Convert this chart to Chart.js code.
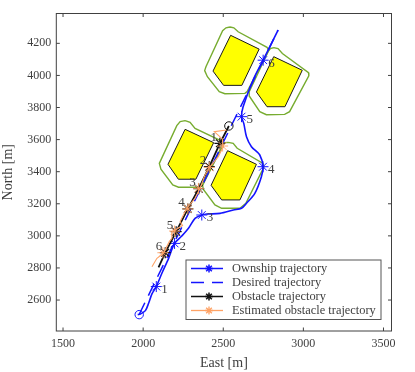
<!DOCTYPE html>
<html>
<head>
<meta charset="utf-8">
<style>
  html, body { margin: 0; padding: 0; background: #fff; }
  canvas { display: block; }
</style>
<script src="https://cdn.jsdelivr.net/npm/chart.js@4/dist/chart.umd.min.js"></script>
</head>
<body>
<canvas id="chart" width="415" height="372"></canvas>
<script>
const xTickValues = [1500, 2000, 2500, 3000, 3500];
const yTickValues = [2600, 2800, 3000, 3200, 3400, 3600, 3800, 4000, 4200];

// yellow obstacles
const obstacleA = [[2546,4250],[2724,4164],[2616,3938],[2502,3938],[2436,4027],[2546,4250]];
const obstacleB = [[2815,4117],[2993,4032],[2885,3805],[2773,3805],[2707,3897],[2815,4117]];
const obstacleC = [[2262,3664],[2440,3581],[2329,3353],[2220,3353],[2155,3446],[2262,3664]];
const obstacleD = [[2527,3531],[2707,3446],[2604,3224],[2490,3224],[2424,3315],[2527,3531]];

// green safety outlines
const outlineA = [[2542,4302],[2566,4297],[2593,4272],[2773,4175],[2784,4158],[2649,3899],[2635,3888],[2510,3886],[2475,3899],[2401,3992],[2384,4030],[2392,4054],[2496,4279],[2517,4297],[2542,4302]];
const outlineB = [[2815,4173],[2842,4167],[2869,4137],[3032,4017],[3034,3998],[2914,3774],[2883,3757],[2769,3755],[2728,3774],[2662,3872],[2662,3899],[2780,4148],[2794,4167],[2815,4173]];
const outlineC = [[2262,3718],[2293,3708],[2324,3670],[2490,3591],[2500,3577],[2372,3317],[2345,3303],[2221,3303],[2185,3317],[2111,3415],[2101,3452],[2210,3687],[2231,3712],[2262,3718]];
const outlineD = [[2531,3583],[2562,3577],[2587,3546],[2748,3452],[2753,3427],[2641,3203],[2604,3172],[2490,3172],[2448,3193],[2376,3290],[2370,3317],[2500,3566],[2510,3581],[2531,3583]];

const ownshipPath = [[1966,2509],[1983,2513],[2014,2534],[2034,2580],[2055,2638],[2082,2684],[2117,2767],[2159,2860],[2196,2953],[2241,2999],[2283,3047],[2324,3109],[2366,3130],[2397,3136],[2480,3140],[2563,3161],[2614,3172],[2645,3203],[2697,3265],[2738,3369],[2748,3431],[2728,3504],[2676,3556],[2645,3618],[2628,3701],[2614,3743],[2624,3805],[2686,3971],[2749,4096],[2842,4283]];
const ownshipMarks = [[2082,2684],[2196,2953],[2366,3130],[2748,3431],[2614,3743],[2749,4095]];
const desiredPath = [[1975,2510],[2842,4283]];
const obstaclePath = [[2535,3685],[2479,3577],[2413,3431],[2347,3294],[2279,3168],[2206,3026],[2138,2895],[2096,2804]];
const obstacleMarks = [[2479,3577],[2413,3431],[2347,3294],[2279,3168],[2206,3026],[2138,2895]];
const estimatePath = [[2521,3660],[2444,3650],[2494,3604],[2500,3556],[2469,3494],[2417,3431],[2386,3380],[2355,3295],[2324,3234],[2272,3172],[2231,3089],[2246,3064],[2200,3037],[2179,3026],[2179,2985],[2163,2964],[2127,2891],[2086,2860],[2055,2808]];
const estimateMarks = [[2496,3560],[2413,3427],[2345,3296],[2279,3168],[2196,3030],[2123,2895]];

const ownshipLabels = ['1', '2', '3', '4', '5', '6'];
const obstacleLabels = ['1', '2', '3', '4', '5', '6'];
const legendLabels = ['Ownship trajectory', 'Desired trajectory', 'Obstacle trajectory', 'Estimated obstacle trajectory'];

const SERIF = '"Liberation Serif", serif';
const INK = '#404040';
const BLUE = '#1414ff';
const ORANGE = '#ffa366';

const toPts = list => list.map(p => ({ x: p[0], y: p[1] }));

function polygon(pts) {
    return { data: toPts(pts), showLine: true, borderColor: '#1a1a1a', borderWidth: 1, backgroundColor: '#ffff00', fill: 'shape', pointRadius: 0, order: 9 };
}
function outline(pts) {
    return { data: toPts(pts), showLine: true, borderColor: '#77ac30', borderWidth: 1.4, pointRadius: 0, order: 8 };
}
function path(pts, color, width, order, extra) {
    return Object.assign({ data: toPts(pts), showLine: true, borderColor: color, borderWidth: width, pointRadius: 0, order: order }, extra || {});
}
function marks(pts, color, width, order) {
    return { data: toPts(pts), showLine: false, pointStyle: 'star', pointRadius: 5.5, pointBorderColor: color, pointBackgroundColor: color, pointBorderWidth: width, order: order };
}

const frame = {
    id: 'frame',
    afterDatasetsDraw(chart) {
        const { ctx, chartArea: a, scales: { x, y } } = chart;
        ctx.save();
        // axes box and inward ticks
        ctx.strokeStyle = INK;
        ctx.lineWidth = 1;
        ctx.strokeRect(a.left, a.top, a.right - a.left, a.bottom - a.top);
        ctx.beginPath();
        xTickValues.forEach(v => {
            const px = x.getPixelForValue(v);
            ctx.moveTo(px, a.bottom); ctx.lineTo(px, a.bottom - 3.5);
            ctx.moveTo(px, a.top); ctx.lineTo(px, a.top + 3.5);
        });
        yTickValues.forEach(v => {
            const py = y.getPixelForValue(v);
            ctx.moveTo(a.left, py); ctx.lineTo(a.left + 3.5, py);
            ctx.moveTo(a.right, py); ctx.lineTo(a.right - 3.5, py);
        });
        ctx.stroke();

        // start circles
        ctx.lineWidth = 1;
        ctx.strokeStyle = BLUE;
        ctx.beginPath();
        ctx.arc(x.getPixelForValue(ownshipPath[0][0]) + 1.5, y.getPixelForValue(ownshipPath[0][1]), 4.2, 0, Math.PI * 2);
        ctx.stroke();
        ctx.strokeStyle = '#111';
        ctx.beginPath();
        ctx.arc(x.getPixelForValue(obstaclePath[0][0]), y.getPixelForValue(obstaclePath[0][1]), 4.2, 0, Math.PI * 2);
        ctx.stroke();

        // numbers along the tracks
        ctx.font = '13px ' + SERIF;
        ctx.fillStyle = INK;
        ctx.textBaseline = 'middle';
        ctx.textAlign = 'left';
        ownshipMarks.forEach((p, i) => {
            ctx.fillText(ownshipLabels[i], x.getPixelForValue(p[0]) + 5, y.getPixelForValue(p[1]) + 3);
        });
        ctx.textAlign = 'right';
        obstacleMarks.forEach((p, i) => {
            ctx.fillText(obstacleLabels[i], x.getPixelForValue(p[0]) - 3, y.getPixelForValue(p[1]) - 6);
        });

        // legend
        const lx = 186, ly = 260, lw = 195, lh = 59.5;
        ctx.fillStyle = '#fff';
        ctx.fillRect(lx, ly, lw, lh);
        ctx.strokeStyle = '#555';
        ctx.lineWidth = 1;
        ctx.strokeRect(lx, ly, lw, lh);
        const colors = [BLUE, BLUE, '#111', ORANGE];
        legendLabels.forEach((label, i) => {
            const ry = ly + 8.5 + i * 14;
            ctx.strokeStyle = colors[i];
            ctx.lineWidth = i === 3 ? 1.3 : 1.5;
            ctx.setLineDash(i === 1 ? [13, 8] : []);
            ctx.beginPath();
            ctx.moveTo(lx + 5, ry); ctx.lineTo(lx + 37, ry);
            ctx.stroke();
            ctx.setLineDash([]);
            if (i !== 1) {
                const mx = lx + 23, r = 4;
                ctx.beginPath();
                for (let k = 0; k < 4; k++) {
                    const t = k * Math.PI / 4;
                    ctx.moveTo(mx - r * Math.cos(t), ry - r * Math.sin(t));
                    ctx.lineTo(mx + r * Math.cos(t), ry + r * Math.sin(t));
                }
                ctx.stroke();
            }
            ctx.fillStyle = INK;
            ctx.textAlign = 'left';
            ctx.font = '12.4px ' + SERIF;
            ctx.fillText(label, lx + 46, ry);
        });
        ctx.restore();
    }
};

new Chart(document.getElementById('chart').getContext('2d'), {
    type: 'scatter',
    data: {
        datasets: [
            polygon(obstacleA),
            polygon(obstacleB),
            polygon(obstacleC),
            polygon(obstacleD),
            outline(outlineA),
            outline(outlineB),
            outline(outlineC),
            outline(outlineD),
            path(desiredPath, BLUE, 1.5, 5, { borderDash: [13, 8] }),
            path(ownshipPath, BLUE, 1.6, 4, { tension: 0.3 }),
            marks(ownshipMarks, BLUE, 1, 3),
            path(obstaclePath, '#111', 1.8, 2),
            marks(obstacleMarks, '#111', 1.2, 2),
            path(estimatePath, ORANGE, 1.1, 1),
            marks(estimateMarks, ORANGE, 0.9, 1)
        ]
    },
    options: {
        responsive: false,
        animation: false,
        layout: { padding: { left: 0, right: 23.5, top: 13.5, bottom: 0 } },
        plugins: { legend: { display: false }, tooltip: { enabled: false } },
        scales: {
            x: {
                type: 'linear', min: 1458, max: 3550,
                grid: { display: false, drawTicks: false },
                border: { display: false },
                afterBuildTicks: s => { s.ticks = xTickValues.map(value => ({ value })); },
                afterFit: s => { s.height = 41; },
                ticks: { color: INK, font: { family: SERIF, size: 12 }, maxRotation: 0, padding: 6, callback: v => String(v) },
                title: { display: true, text: 'East [m]', color: INK, font: { family: SERIF, size: 14 }, padding: { top: 2, bottom: 0 } }
            },
            y: {
                type: 'linear', min: 2407, max: 4386,
                grid: { display: false, drawTicks: false },
                border: { display: false },
                afterBuildTicks: s => { s.ticks = yTickValues.map(value => ({ value })); },
                afterFit: s => { s.width = 56.3; },
                ticks: { color: INK, font: { family: SERIF, size: 12 }, padding: 5, callback: v => String(v) },
                title: { display: true, text: 'North [m]', color: INK, font: { family: SERIF, size: 14 }, padding: { top: 0, bottom: 2 } }
            }
        }
    },
    plugins: [frame]
});
</script>
</body>
</html>
